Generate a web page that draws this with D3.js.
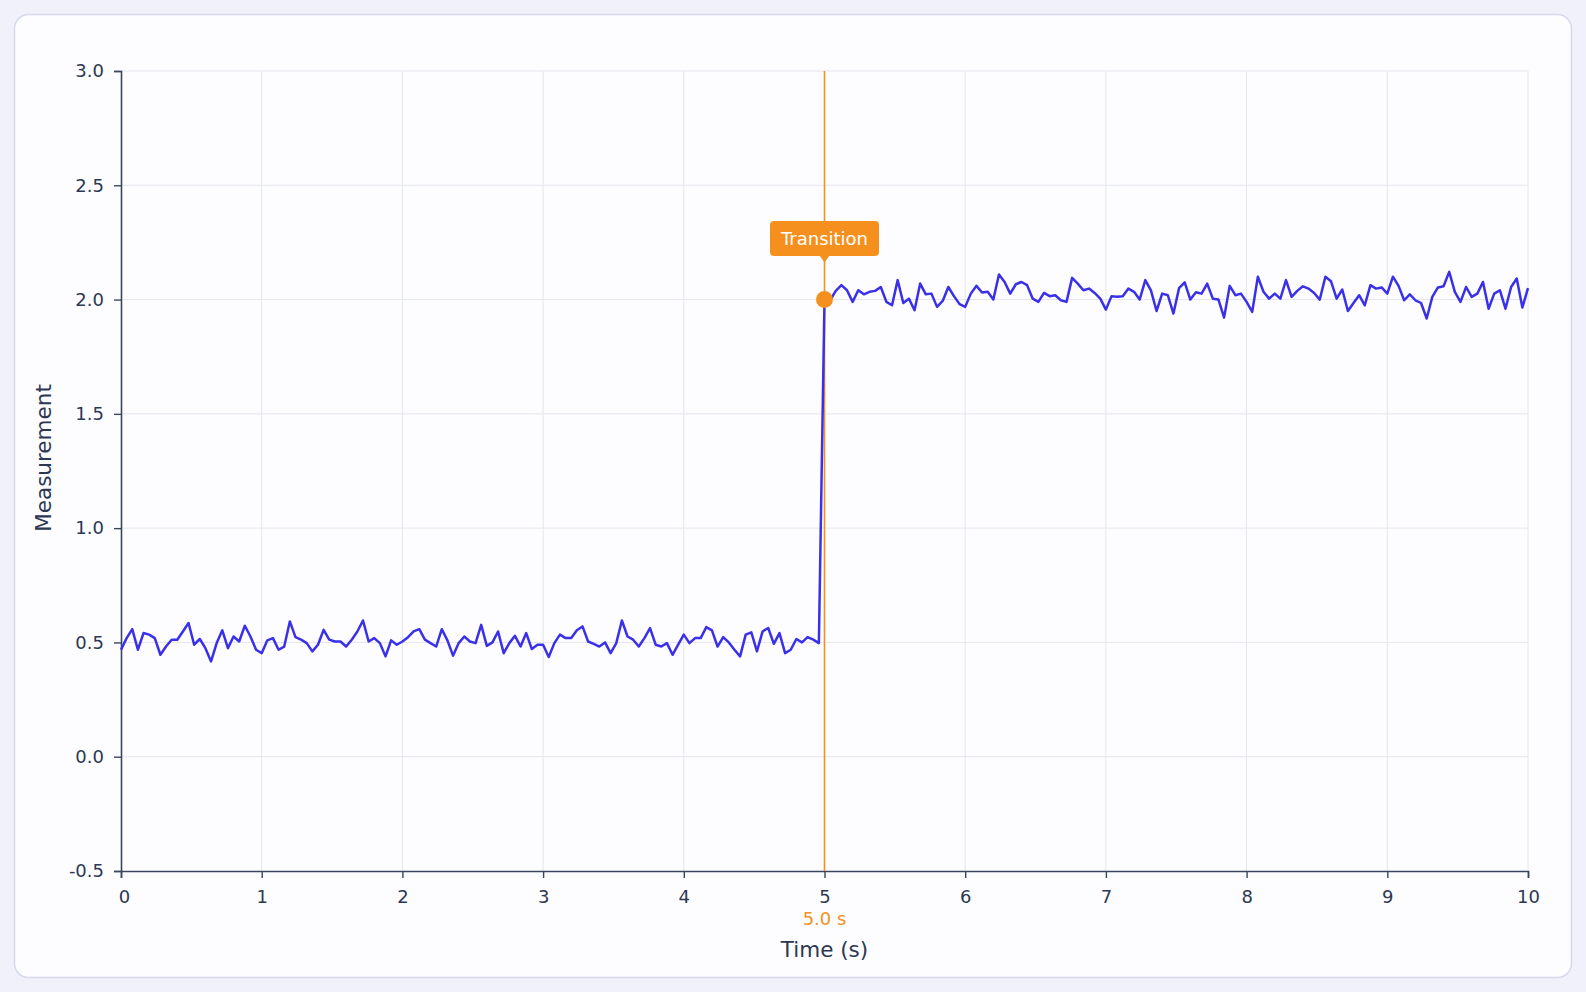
<!DOCTYPE html>
<html lang="en">
<head>
    <meta charset="UTF-8">
    <title>Step response</title>
    <style>
        html, body { margin: 0; padding: 0; background: #f1f1fb; }
        svg { display: block; font-family: "DejaVu Sans", Verdana, sans-serif; }
    </style>
</head>
<body>
    <div class="canvas"></div>

    <script src="https://cdnjs.cloudflare.com/ajax/libs/d3/7.8.5/d3.min.js"></script>

    <script>
        const step = 0.04;

        const before = [
            0.468, 0.519, 0.558, 0.468, 0.541, 0.534, 0.519, 0.446, 0.482, 0.512,
            0.512, 0.548, 0.585, 0.490, 0.515, 0.475, 0.417, 0.497, 0.553, 0.475,
            0.526, 0.504, 0.573, 0.526, 0.468, 0.453, 0.509, 0.519, 0.468, 0.482,
            0.592, 0.523, 0.512, 0.497, 0.461, 0.490, 0.555, 0.512, 0.504, 0.504,
            0.482, 0.512, 0.548, 0.596, 0.504, 0.519, 0.497, 0.439, 0.509, 0.490,
            0.504, 0.523, 0.548, 0.558, 0.512, 0.497, 0.482, 0.558, 0.509, 0.442,
            0.497, 0.526, 0.504, 0.497, 0.577, 0.485, 0.500, 0.548, 0.453, 0.497,
            0.529, 0.482, 0.541, 0.471, 0.490, 0.490, 0.436, 0.497, 0.534, 0.519,
            0.519, 0.553, 0.570, 0.504, 0.494, 0.482, 0.500, 0.453, 0.497, 0.596,
            0.526, 0.512, 0.482, 0.519, 0.563, 0.490, 0.482, 0.497, 0.446, 0.490,
            0.534, 0.497, 0.519, 0.519, 0.567, 0.553, 0.482, 0.523, 0.500, 0.468,
            0.439, 0.534, 0.544, 0.461, 0.548, 0.563, 0.494, 0.541, 0.453, 0.468,
            0.515, 0.500, 0.523, 0.512, 0.497
        ];

        const after = [
            2.000, 1.997, 2.038, 2.063, 2.041, 1.990, 2.041, 2.023, 2.034, 2.038,
            2.055, 1.990, 1.975, 2.085, 1.985, 2.004, 1.953, 2.070, 2.023, 2.026,
            1.968, 1.994, 2.055, 2.015, 1.980, 1.968, 2.026, 2.060, 2.031, 2.034,
            2.000, 2.110, 2.077, 2.026, 2.067, 2.077, 2.063, 2.004, 1.990, 2.029,
            2.015, 2.019, 1.997, 1.990, 2.095, 2.070, 2.041, 2.048, 2.029, 2.004,
            1.956, 2.015, 2.012, 2.015, 2.048, 2.034, 2.000, 2.085, 2.040, 1.950,
            2.026, 2.019, 1.939, 2.050, 2.075, 2.000, 2.032, 2.026, 2.070, 2.004,
            2.000, 1.921, 2.060, 2.019, 2.026, 1.990, 1.946, 2.100, 2.034, 2.004,
            2.026, 2.004, 2.085, 2.012, 2.038, 2.058, 2.048, 2.029, 2.000, 2.100,
            2.080, 2.004, 2.044, 1.950, 1.985, 2.019, 1.975, 2.063, 2.048, 2.053,
            2.026, 2.100, 2.060, 1.997, 2.023, 1.997, 1.985, 1.917, 2.012, 2.053,
            2.058, 2.121, 2.034, 1.990, 2.055, 2.012, 2.026, 2.077, 1.960, 2.026,
            2.041, 1.960, 2.055, 2.092, 1.965, 2.050
        ];

        const xTicks = [0, 1, 2, 3, 4, 5, 6, 7, 8, 9, 10];
        const yTicks = [-0.5, 0, 0.5, 1, 1.5, 2, 2.5, 3];
        const marker = { t: 5.0, value: 2.0, label: "Transition", axisLabel: "5.0 s" };

        const series = before.concat(after).map((v, i) => ({ t: i * step, v: v }));

        const width = 1586, height = 992;
        const margin = { top: 71, right: 58, bottom: 121, left: 121 };

        const blue = "#3a30ea";
        const orange = "#f5901e";
        const axisColor = "#3b465e";
        const textColor = "#2c3852";

        const svg = d3.select(".canvas").append("svg")
            .attr("width", width)
            .attr("height", height);

        // card
        svg.append("rect")
            .attr("x", 14.5)
            .attr("y", 14.5)
            .attr("width", width - 29)
            .attr("height", height - 29)
            .attr("rx", 14)
            .attr("fill", "#fdfdff")
            .attr("stroke", "#d6d9ec")
            .attr("stroke-width", 1.5);

        const x = d3.scaleLinear()
            .domain([0, 10])
            .range([margin.left, width - margin.right]);

        const y = d3.scaleLinear()
            .domain([-0.5, 3])
            .range([height - margin.bottom, margin.top]);

        // grid
        svg.append("g")
            .selectAll("line")
            .data(xTicks.slice(1))
            .join("line")
                .attr("x1", d => x(d))
                .attr("x2", d => x(d))
                .attr("y1", y(-0.5))
                .attr("y2", y(3))
                .attr("stroke", "#e4e6ee")
                .attr("stroke-width", 1);

        svg.append("g")
            .selectAll("line")
            .data(yTicks.slice(1))
            .join("line")
                .attr("x1", x(0))
                .attr("x2", x(10))
                .attr("y1", d => y(d))
                .attr("y2", d => y(d))
                .attr("stroke", "#e4e6ee")
                .attr("stroke-width", 1);

        // axes
        const xAxis = svg.append("g")
            .attr("transform", `translate(0,${y(-0.5)})`)
            .call(d3.axisBottom(x).tickValues(xTicks).tickFormat(d => String(d)).tickSizeOuter(0).tickSize(7).tickPadding(12));

        const yAxis = svg.append("g")
            .attr("transform", `translate(${x(0)},0)`)
            .call(d3.axisLeft(y).tickValues(yTicks).tickFormat(d => d.toFixed(1)).tickSizeOuter(0).tickSize(7).tickPadding(10));

        [xAxis, yAxis].forEach(g => {
            g.select(".domain").attr("stroke", axisColor).attr("stroke-width", 1.6);
            g.selectAll(".tick line").attr("stroke", axisColor).attr("stroke-width", 1.4);
            g.selectAll(".tick text")
                .attr("fill", textColor)
                .attr("font-size", 18)
                .attr("font-family", "DejaVu Sans, Verdana, sans-serif");
        });
        xAxis.selectAll(".tick text").filter(d => d === 0).attr("dx", 3);

        // transition marker line
        svg.append("line")
            .attr("x1", x(marker.t))
            .attr("x2", x(marker.t))
            .attr("y1", y(3))
            .attr("y2", y(-0.5))
            .attr("stroke", orange)
            .attr("stroke-width", 1.6);

        // signal
        const line = d3.line()
            .x(d => x(d.t))
            .y(d => y(d.v));

        svg.append("path")
            .datum(series)
            .attr("fill", "none")
            .attr("stroke", blue)
            .attr("stroke-width", 2.5)
            .attr("stroke-linejoin", "round")
            .attr("d", line);

        svg.append("circle")
            .attr("cx", x(marker.t))
            .attr("cy", y(marker.value))
            .attr("r", 8.5)
            .attr("fill", orange);

        // annotation box
        const bx = x(marker.t), by = y(marker.value) - 61;
        const ann = svg.append("g").attr("transform", `translate(${bx},${by})`);
        ann.append("rect")
            .attr("x", -54.5)
            .attr("y", -17.5)
            .attr("width", 109)
            .attr("height", 35)
            .attr("rx", 4)
            .attr("fill", orange);
        ann.append("path")
            .attr("d", "M-5,17 L0,24 L5,17 Z")
            .attr("fill", orange);
        ann.append("text")
            .attr("text-anchor", "middle")
            .attr("dy", "0.35em")
            .attr("fill", "white")
            .attr("font-size", 18)
            .text(marker.label);

        svg.append("text")
            .attr("x", x(marker.t))
            .attr("y", 919)
            .attr("dy", "0.35em")
            .attr("text-anchor", "middle")
            .attr("fill", orange)
            .attr("font-size", 18)
            .text(marker.axisLabel);

        // axis titles
        svg.append("text")
            .attr("x", (x(0) + x(10)) / 2)
            .attr("y", 949)
            .attr("dy", "0.35em")
            .attr("text-anchor", "middle")
            .attr("fill", textColor)
            .attr("font-size", 21.5)
            .text("Time (s)");

        svg.append("text")
            .attr("transform", "translate(43,458) rotate(-90)")
            .attr("dy", "0.35em")
            .attr("text-anchor", "middle")
            .attr("fill", textColor)
            .attr("font-size", 21.5)
            .text("Measurement");
    </script>
</body>
</html>
